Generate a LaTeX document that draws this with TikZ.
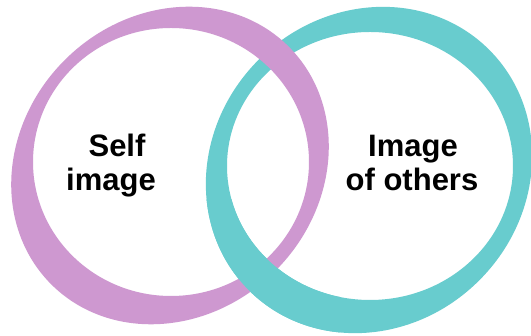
\documentclass[tikz,border=0pt]{standalone}
\usepackage{fontspec}
\setmainfont{Liberation Sans}
\definecolor{ringpink}{RGB}{206,152,208}
\definecolor{ringcyan}{RGB}{104,204,206}
\begin{document}
\begin{tikzpicture}[x=1pt,y=1pt,
  label/.style={anchor=base,inner sep=0pt,font=\fontsize{31}{34}\selectfont\bfseries}]
\useasboundingbox[fill=white] (0,0) rectangle (531,336);
% cyan ring (full)
\fill[ringcyan,even odd rule] (369,166) ellipse [x radius=170pt,y radius=156pt,rotate=45]
  (370,170) ellipse [x radius=143pt,y radius=134pt];
% pink ring (over cyan at the top crossing)
\fill[ringpink,even odd rule] (170,170.5) ellipse [x radius=168pt,y radius=149pt,rotate=45]
  (171,174) ellipse [x radius=138pt,y radius=134pt];
% cyan again over pink at the bottom crossing
\begin{scope}
\clip (200,0) rectangle (340,136);
\fill[ringcyan,even odd rule] (369,166) ellipse [x radius=170pt,y radius=156pt,rotate=45]
  (370,170) ellipse [x radius=143pt,y radius=134pt];
\end{scope}
\node[label] (selfA) at (117,179) {Self};
\node[label] (selfB) at (111,145) {image};
\node[label] (othA) at (413,179) {Image};
\node[label] (othB) at (412,145) {of others};
\end{tikzpicture}
\end{document}
